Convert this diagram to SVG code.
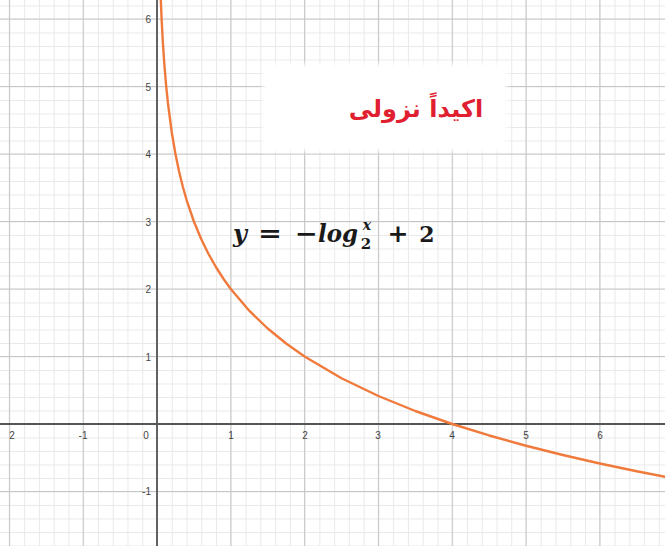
<svg xmlns="http://www.w3.org/2000/svg" width="665" height="546" viewBox="0 0 665 546">
  <style>
    .lbl { font-family: "Liberation Sans", Arial, sans-serif; font-size: 10px; fill: #444; }
    .lx { text-anchor: middle; }
    .ly { text-anchor: end; }
    .m { font-family: "DejaVu Serif", "Liberation Serif", serif; font-weight: bold; fill: #1a1a1a; }
    .mi { font-style: italic; }
    .op { font-family: "DejaVu Serif", serif; font-weight: bold; fill: #1a1a1a; text-anchor: middle; }
  </style>
  <defs>
    <pattern id="minor" patternUnits="userSpaceOnUse" x="9.4" y="5.5" width="14.76" height="13.5">
      <path d="M0 0.5 H14.76 M0.5 0 V13.5" fill="none" stroke="#e9e9e9" stroke-width="1"/>
    </pattern>
    <pattern id="major" patternUnits="userSpaceOnUse" x="8.9" y="18.5" width="73.8" height="67.5">
      <path d="M0 0.5 H73.8 M0.5 0 V67.5" fill="none" stroke="#c6c6c6" stroke-width="1"/>
    </pattern>
    <filter id="soft" x="-10%" y="-20%" width="120%" height="140%">
      <feGaussianBlur stdDeviation="2.5"/>
    </filter>
  </defs>

  <rect width="665" height="546" fill="#ffffff"/>
  <rect width="665" height="546" fill="url(#minor)"/>
  <rect width="665" height="546" fill="url(#major)"/>

  <!-- white label box -->
  <rect x="263" y="64" width="244" height="87" fill="#ffffff" filter="url(#soft)"/>

  <!-- axes -->
  <g stroke="#555" stroke-width="1.8">
    <line x1="0" y1="424" x2="665" y2="424"/>
    <line x1="157" y1="0" x2="157" y2="546"/>
  </g>

  <!-- x labels -->
  <g class="lbl lx">
    <text x="12" y="439">2</text>
    <text x="83" y="439">-1</text>
    <text x="146" y="439">0</text>
    <text x="231" y="439">1</text>
    <text x="305" y="439">2</text>
    <text x="378" y="439">3</text>
    <text x="452" y="439">4</text>
    <text x="526" y="439">5</text>
    <text x="600" y="439">6</text>
  </g>
  <!-- y labels -->
  <g class="lbl ly">
    <text x="151" y="495">-1</text>
    <text x="151" y="360.5">1</text>
    <text x="151" y="293">2</text>
    <text x="151" y="225.5">3</text>
    <text x="151" y="158">4</text>
    <text x="151" y="90.5">5</text>
    <text x="151" y="23">6</text>
  </g>

  <!-- curve y = -log2(x) + 2 -->
  <path fill="none" stroke="#f07a3c" stroke-width="2.4" stroke-linejoin="round" stroke-linecap="round"
    d="M160.69,-2.7 L161.61,19 L162.9,43.04 L164.38,64.77 L166.23,86.5 L168.07,104.25 L171.76,132.27 L175.45,154 L179.14,171.75 L182.83,186.76 L186.52,199.77 L193.9,221.5 L201.28,239.25 L208.66,254.26 L216.04,267.27 L223.42,278.74 L230.8,289 L249.25,310.73 L267.7,328.49 L286.15,343.5 L304.6,356.5 L341.5,378.23 L378.4,395.99 L415.3,411 L452.2,424 L489.1,435.47 L526,445.73 L562.9,455.01 L599.8,463.49 L636.7,471.28 L673.6,478.5"/>

  <!-- red label -->
  <text x="416" y="117" text-anchor="middle" direction="rtl" font-family="'DejaVu Sans', 'Noto Sans', sans-serif" font-weight="bold" font-size="24" fill="#e01f30">اکیداً نزولی</text>

  <!-- equation -->
  <g id="equation">
    <text class="m mi" x="233" y="242" font-size="24">y</text>
    <text class="op" x="270" y="242" font-size="24" textLength="24" lengthAdjust="spacingAndGlyphs">=</text>
    <text class="op" x="306" y="242" font-size="24" textLength="23" lengthAdjust="spacingAndGlyphs">−</text>
    <text class="m mi" x="318" y="242" font-size="24" textLength="40" lengthAdjust="spacingAndGlyphs">log</text>
    <text class="m" x="366" y="249" font-size="15" text-anchor="middle">2</text>
    <text class="m mi" x="367" y="230" font-size="14" text-anchor="middle">x</text>
    <text class="op" x="398" y="242" font-size="24" textLength="21" lengthAdjust="spacingAndGlyphs">+</text>
    <text class="m" x="427" y="242" font-size="22" text-anchor="middle">2</text>
  </g>
</svg>
